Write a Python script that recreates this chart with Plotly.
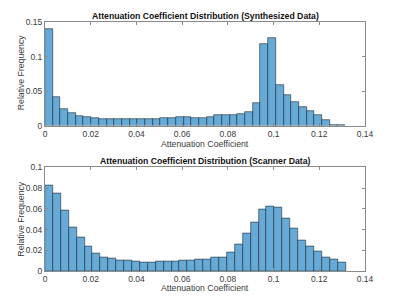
import plotly.graph_objects as go

# ---- data ----
synth_bin_width = 0.003367
synth_freq = [0.1395, 0.0410, 0.0238, 0.0180, 0.0133, 0.0120, 0.0110, 0.0100,
              0.0095, 0.0095, 0.0095, 0.0095, 0.0095, 0.0095, 0.0095, 0.0105,
              0.0105, 0.0120, 0.0122, 0.0105, 0.0105, 0.0125, 0.0150, 0.0155,
              0.0150, 0.0170, 0.0190, 0.0320, 0.1187, 0.1262, 0.0584, 0.0437,
              0.0337, 0.0266, 0.0205, 0.0148, 0.0077, 0.0014, 0.0005]

scan_bin_width = 0.00346
scan_freq = [0.0822, 0.0746, 0.0584, 0.0425, 0.0320, 0.0241, 0.0165, 0.0132,
             0.0126, 0.0103, 0.0101, 0.0088, 0.0087, 0.0087, 0.0093, 0.0088,
             0.0090, 0.0102, 0.0105, 0.0112, 0.0116, 0.0127, 0.0135, 0.0183,
             0.0260, 0.0366, 0.0468, 0.0595, 0.0627, 0.0610, 0.0507, 0.0412,
             0.0293, 0.0236, 0.0189, 0.0135, 0.0110, 0.0081]

x_ticks = [0, 0.02, 0.04, 0.06, 0.08, 0.1, 0.12, 0.14]
synth_y_ticks = [0, 0.05, 0.1, 0.15]
scan_y_ticks = [0, 0.02, 0.04, 0.06, 0.08, 0.1]

title_top = "Attenuation Coefficient Distribution (Synthesized Data)"
title_bottom = "Attenuation Coefficient Distribution (Scanner Data)"
x_label = "Attenuation Coefficient"
y_label = "Relative Frequency"

FONT = "Liberation Sans, Arial, Helvetica, sans-serif"
BAR_FILL = "#66AAD7"
BAR_EDGE = "#1f2a33"
AX = "#8a8a8a"
TXT = "#3a3a3a"

fig = go.Figure()

def centers(n, w):
    return [(i + 0.5) * w for i in range(n)]

fig.add_trace(go.Bar(x=centers(len(synth_freq), synth_bin_width), y=synth_freq,
                     width=synth_bin_width, marker=dict(color=BAR_FILL,
                     line=dict(color=BAR_EDGE, width=0.6)),
                     xaxis="x", yaxis="y", showlegend=False))
fig.add_trace(go.Bar(x=centers(len(scan_freq), scan_bin_width), y=scan_freq,
                     width=scan_bin_width, marker=dict(color=BAR_FILL,
                     line=dict(color=BAR_EDGE, width=0.6)),
                     xaxis="x2", yaxis="y2", showlegend=False))

axis_common = dict(showline=True, linecolor=AX, linewidth=1, mirror="ticks",
                   ticks="inside", ticklen=3, tickcolor=AX, showgrid=False,
                   zeroline=False, tickfont=dict(family=FONT, size=8.5, color=TXT))

# page body adds an 8px offset, so the figure is 8px smaller than the window
fig.update_layout(
    width=392, height=294,
    margin=dict(l=37, r=35, t=9, b=31),
    paper_bgcolor="white", plot_bgcolor="white",
    bargap=0,
    xaxis=dict(domain=[0, 1], range=[0, 0.14], tickvals=x_ticks,
               ticktext=[f"{v:g}" for v in x_ticks], anchor="y", **axis_common),
    yaxis=dict(domain=[0.584, 1], range=[0, 0.15], tickvals=synth_y_ticks,
               ticktext=[f"{v:g}" for v in synth_y_ticks], anchor="x", **axis_common),
    xaxis2=dict(domain=[0, 1], range=[0, 0.14], tickvals=x_ticks,
                ticktext=[f"{v:g}" for v in x_ticks], anchor="y2", **axis_common),
    yaxis2=dict(domain=[0, 0.416], range=[0, 0.1], tickvals=scan_y_ticks,
                ticktext=[f"{v:g}" for v in scan_y_ticks], anchor="x2", **axis_common),
)

ann = []
ann.append(dict(text=f"<b>{title_top}</b>", x=0.5, y=1.024, xref="paper", yref="paper",
                showarrow=False, xanchor="center", yanchor="middle",
                font=dict(family=FONT, size=8.7, color="#111")))
ann.append(dict(text=f"<b>{title_bottom}</b>", x=0.5, y=0.441, xref="paper", yref="paper",
                showarrow=False, xanchor="center", yanchor="middle",
                font=dict(family=FONT, size=8.7, color="#111")))
for yy in (0.509, -0.068):
    ann.append(dict(text=x_label, x=0.5, y=yy, xref="paper", yref="paper",
                    showarrow=False, xanchor="center", yanchor="middle",
                    font=dict(family=FONT, size=8.7, color=TXT)))
for yy in (0.797, 0.209):
    ann.append(dict(text=y_label, x=-0.076, y=yy, xref="paper", yref="paper",
                    showarrow=False, xanchor="center", yanchor="middle", textangle=-90,
                    font=dict(family=FONT, size=8.7, color=TXT)))
fig.update_layout(annotations=ann)

fig.write_html("out.html")
